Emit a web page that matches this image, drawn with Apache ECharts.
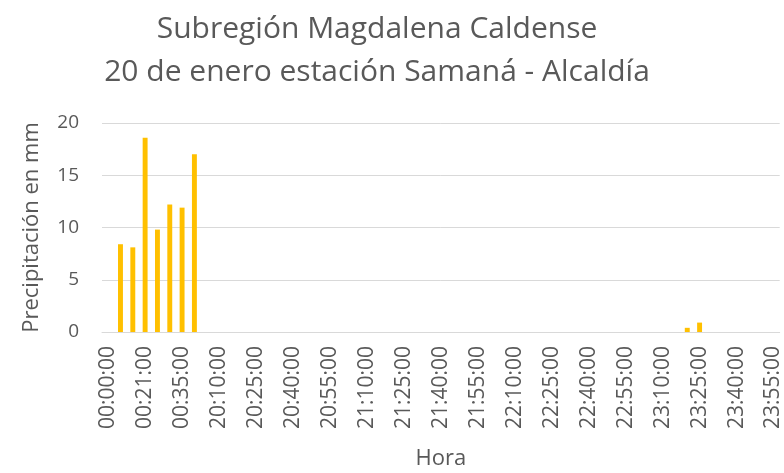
<!DOCTYPE html>
<html>
<head>
<meta charset="utf-8">
<script src="https://cdn.jsdelivr.net/npm/echarts@6/dist/echarts.min.js"></script>
<style>
  html, body { margin: 0; padding: 0; background: #fff; }
  #chart { width: 784px; height: 473px; }
</style>
</head>
<body>
<div id="chart"></div>
<script>
  const horas = [
    "00:00:00", "00:07:00", "00:14:00", "00:21:00", "00:25:00", "00:30:00", "00:35:00", "00:40:00", "20:05:00",
    "20:10:00", "20:15:00", "20:20:00", "20:25:00", "20:30:00", "20:35:00", "20:40:00", "20:45:00", "20:50:00",
    "20:55:00", "21:00:00", "21:05:00", "21:10:00", "21:15:00", "21:20:00", "21:25:00", "21:30:00", "21:35:00",
    "21:40:00", "21:45:00", "21:50:00", "21:55:00", "22:00:00", "22:05:00", "22:10:00", "22:15:00", "22:20:00",
    "22:25:00", "22:30:00", "22:35:00", "22:40:00", "22:45:00", "22:50:00", "22:55:00", "23:00:00", "23:05:00",
    "23:10:00", "23:15:00", "23:20:00", "23:25:00", "23:30:00", "23:35:00", "23:40:00", "23:45:00", "23:50:00",
    "23:55:00"
  ]
  const precipitacion = [
    0, 8.4, 8.1, 18.6, 9.8, 12.2, 11.9, 17.0, 0,
    0, 0, 0, 0, 0, 0, 0, 0, 0,
    0, 0, 0, 0, 0, 0, 0, 0, 0,
    0, 0, 0, 0, 0, 0, 0, 0, 0,
    0, 0, 0, 0, 0, 0, 0, 0, 0,
    0, 0, 0.4, 0.9, 0, 0, 0, 0, 0,
    0
  ]
  const yTicks = { min: 0, max: 20, interval: 5 }

  const textColor = "#595959"
  const font = "'Open Sans', sans-serif"

  const option = {
    animation: false,
    title: {
      text: "Subregión Magdalena Caldense\n20 de enero estación Samaná - Alcaldía",
      left: 372,
      top: 3,
      textAlign: "center",
      textStyle: {
        color: textColor,
        fontFamily: font,
        fontSize: 30,
        fontWeight: "normal",
        lineHeight: 43,
      },
    },
    grid: {
      left: 102,
      right: 3,
      top: 123,
      bottom: 141,
    },
    xAxis: {
      type: "category",
      data: horas,
      name: "Hora",
      nameLocation: "middle",
      nameGap: 116,
      nameTextStyle: { color: textColor, fontFamily: font, fontSize: 22 },
      axisLine: { lineStyle: { color: "#d9d9d9", width: 1 } },
      axisTick: { show: false },
      axisLabel: {
        interval: 2,
        rotate: 90,
        margin: 14,
        color: textColor,
        fontFamily: font,
        fontSize: 21,
      },
    },
    yAxis: {
      type: "value",
      min: yTicks.min,
      max: yTicks.max,
      interval: yTicks.interval,
      name: "Precipitación en mm",
      nameLocation: "middle",
      nameGap: 59,
      nameTextStyle: { color: textColor, fontFamily: font, fontSize: 22 },
      axisLine: { show: false },
      axisTick: { show: false },
      splitLine: { lineStyle: { color: "#d9d9d9", width: 1 } },
      axisLabel: {
        margin: 23,
        color: textColor,
        fontFamily: font,
        fontSize: 19,
      },
    },
    series: [
      {
        type: "bar",
        data: precipitacion,
        barWidth: "40%",
        itemStyle: { color: "#FFC000" },
      },
    ],
  }

  const myChart = echarts.init(document.getElementById("chart"))
  myChart.setOption(option)
</script>
</body>
</html>
